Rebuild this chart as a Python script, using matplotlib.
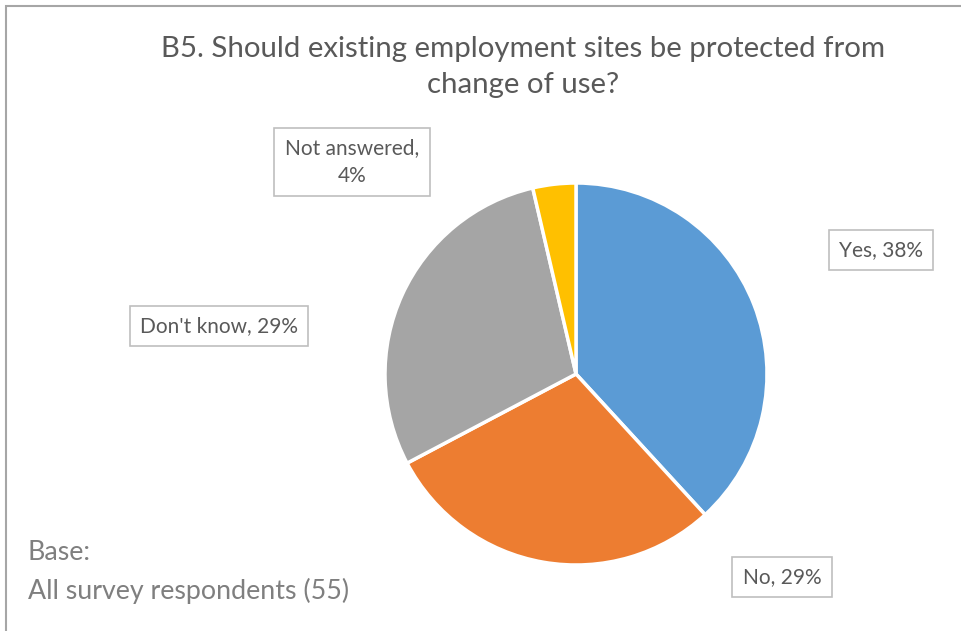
import matplotlib.pyplot as plt
from matplotlib.patches import Rectangle

plt.rcParams['font.family'] = ['Lato', 'DejaVu Sans']

# survey answers (counts out of 55 respondents)
labels = ['Yes', 'No', "Don't know", 'Not answered']
counts = [21, 16, 16, 2]
colors = ['#5B9BD5', '#ED7D31', '#A5A5A5', '#FFC000']
label_text = ['Yes, 38%', 'No, 29%', "Don't know, 29%", 'Not answered,\n4%']

W, H = 962, 631
fig = plt.figure(figsize=(W / 100, H / 100), dpi=100)
ax = fig.add_axes([0, 0, 1, 1])

# outer chart frame
ax.add_patch(Rectangle((6, -20), W + 20, H - 6 + 20, fill=False,
                       edgecolor='#A6A6A6', linewidth=1.5))

cx, cy, r = 576, H - 374, 191
ax.pie(counts, colors=colors, startangle=90, counterclock=False,
       center=(cx, cy), radius=r, frame=True,
       wedgeprops=dict(edgecolor='white', linewidth=2.5))
ax.set_xlim(0, W)
ax.set_ylim(0, H)
ax.set_aspect('equal')
ax.axis('off')

# label boxes around the pie
label_pos = [(881, H - 250), (782, H - 577), (219, H - 326), (352, H - 162)]
for txt, (x, y) in zip(label_text, label_pos):
    ax.text(x, y, txt, ha='center', va='center', fontsize=15,
            color='#595959', linespacing=1.45,
            bbox=dict(boxstyle='square,pad=0.5', facecolor='white',
                      edgecolor='#BFBFBF', linewidth=1.2))

ax.text(523, H - 67, 'B5. Should existing employment sites be protected from\nchange of use?',
        ha='center', va='center', fontsize=21.2, color='#595959', linespacing=1.45)

ax.text(28, H - 553, 'Base:', ha='left', va='center', fontsize=19.3, color='#7F7F7F')
ax.text(28, H - 591, 'All survey respondents (55)', ha='left', va='center',
        fontsize=19.3, color='#7F7F7F')

fig.savefig('out.png', dpi=100)
